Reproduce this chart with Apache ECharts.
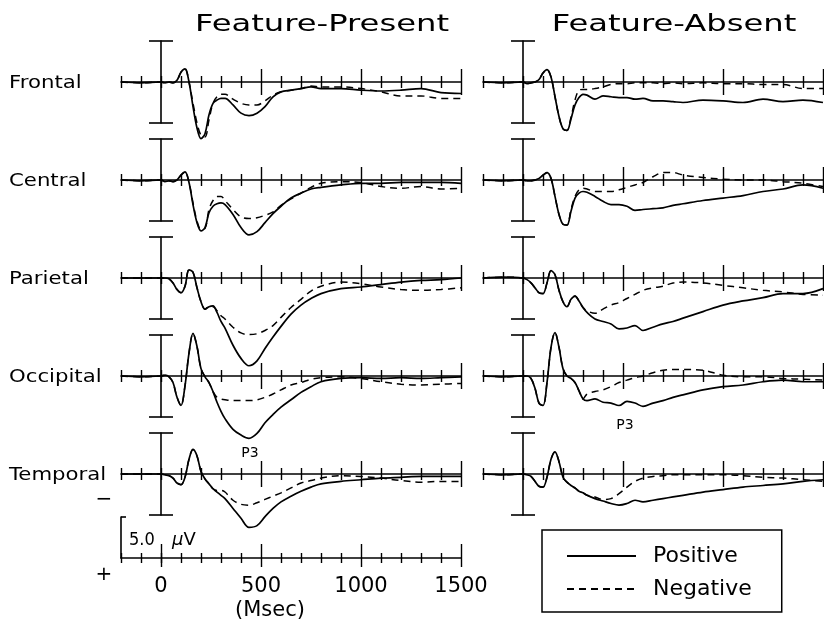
<!DOCTYPE html>
<html>
<head>
<meta charset="utf-8">
<title>ERP waveforms</title>
<script src="https://cdn.jsdelivr.net/npm/echarts@6/dist/echarts.min.js"></script>
<style>
  html, body { margin: 0; padding: 0; background: #fff; }
  #chart { width: 824px; height: 622px; }
</style>
</head>
<body>
<div id="chart"></div>
<script>
// sample times (ms) shared by every trace
var times = [-200, -100, 0, 20, 40, 60, 80, 100, 120, 140, 160, 180, 200, 220, 240, 260, 280, 300, 320,
             360, 400, 440, 480, 520, 560, 600, 650, 700, 750, 800, 900, 1000, 1100, 1200, 1300, 1400, 1500];

var sites = ['Frontal', 'Central', 'Parietal', 'Occipital', 'Temporal'];
var conditions = ['Feature-Present', 'Feature-Absent'];
var minorTicks = [-200, -100, 0, 100, 200, 300, 400, 600, 700, 800, 900, 1100, 1200, 1300, 1400];
var majorTicks = [500, 1000, 1500];
var timeLabels = [0, 500, 1000, 1500];

// amplitudes in microvolts, positive drawn downward
var presentFrontalPos = [0, 0.1, 0, 0.1, 0, 0.1, -0.2, -1.2, -1.6, 0, 3.0, 5.6, 6.9, 6.3, 4.0, 2.6, 2.2, 2.0, 2.0,
  2.8, 3.8, 4.1, 3.8, 3.0, 1.8, 1.2, 1.0, 0.8, 0.6, 0.8, 0.8, 1.0, 1.1, 1.0, 0.8, 1.3, 1.4];
var presentFrontalNeg = [0, 0.1, 0, 0.1, 0, 0.1, -0.2, -1.2, -1.6, 0, 2.6, 5.0, 6.5, 6.7, 4.6, 2.6, 1.8, 1.5, 1.5,
  2.1, 2.6, 2.8, 2.8, 2.3, 1.6, 1.2, 1.0, 0.8, 0.5, 0.6, 0.6, 0.8, 1.2, 1.7, 1.7, 2.0, 2.0];
var presentCentralPos = [0, 0.1, 0, 0.2, 0.1, 0.2, 0, -0.6, -1.0, 0.3, 3.0, 5.2, 6.2, 5.8, 4.0, 3.2, 2.9, 2.8, 3.0,
  4.2, 5.8, 6.7, 6.3, 5.2, 4.1, 3.2, 2.2, 1.6, 1.1, 0.9, 0.6, 0.4, 0.4, 0.3, 0.3, 0.3, 0.4];
var presentCentralNeg = [0, 0.1, 0, 0.2, 0.1, 0.2, 0, -0.6, -1.0, 0.3, 2.8, 5.0, 6.0, 5.9, 3.6, 2.5, 2.0, 2.0, 2.5,
  3.6, 4.5, 4.7, 4.6, 4.3, 3.9, 3.1, 2.3, 1.6, 0.9, 0.4, 0.2, 0.3, 0.8, 1.0, 0.8, 1.1, 1.0];
var presentParietalPos = [0, 0, 0, 0, 0.1, 0.6, 1.4, 1.8, 1.0, -1.0, -0.7, 1.2, 2.9, 3.8, 3.5, 3.4, 4.2, 5.3, 6.1,
  8.2, 9.8, 10.7, 10.1, 8.6, 7.2, 5.9, 4.4, 3.3, 2.5, 1.9, 1.3, 1.1, 0.8, 0.5, 0.3, 0.2, 0.0];
var presentParietalNeg = [0, 0, 0, 0, 0.1, 0.6, 1.4, 1.8, 1.0, -1.0, -0.7, 1.2, 2.9, 3.8, 3.5, 3.5, 4.0, 4.6, 5.0,
  6.0, 6.7, 6.9, 6.8, 6.4, 5.8, 4.8, 3.6, 2.6, 1.6, 1.0, 0.5, 0.7, 1.1, 1.4, 1.5, 1.4, 1.2];
var presentOccipitalPos = [0, 0.1, 0, -0.1, 0.1, 0.8, 2.6, 3.6, 1.2, -2.8, -5.2, -3.6, -0.9, 0.1, 0.8, 1.9, 3.2, 4.3, 5.2,
  6.5, 7.2, 7.6, 7.0, 5.7, 4.7, 3.8, 2.9, 2.0, 1.3, 0.7, 0.3, 0.2, 0.3, 0.2, 0.3, 0.2, 0.1];
var presentOccipitalNeg = [0, 0.1, 0, -0.1, 0.1, 0.8, 2.6, 3.6, 1.2, -2.8, -5.2, -3.6, -0.9, 0.1, 0.8, 1.9, 2.6, 2.8, 2.9,
  3.0, 3.0, 3.0, 2.9, 2.6, 2.2, 1.7, 1.1, 0.8, 0.4, 0.2, 0.1, 0.3, 0.7, 1.0, 1.1, 1.0, 0.9];
var presentTemporalPos = [0, 0, 0, 0.1, 0.2, 0.5, 1.1, 1.3, 0.4, -1.8, -3.0, -2.2, -0.3, 0.6, 1.2, 1.8, 2.2, 2.6, 3.0,
  4.2, 5.4, 6.5, 6.3, 5.2, 4.2, 3.4, 2.7, 2.1, 1.6, 1.2, 0.9, 0.7, 0.5, 0.4, 0.3, 0.3, 0.3];
var presentTemporalNeg = [0, 0, 0, 0.1, 0.2, 0.5, 1.1, 1.3, 0.4, -1.8, -3.0, -2.2, -0.3, 0.6, 1.2, 1.8, 2.0, 2.0, 2.2,
  3.2, 3.7, 3.8, 3.5, 3.1, 2.7, 2.3, 1.7, 1.1, 0.8, 0.5, 0.2, 0.3, 0.5, 0.8, 1.0, 0.9, 0.9];

var absentFrontalPos = [0, 0.1, 0, 0.2, 0.1, 0, -0.3, -1.1, -1.5, -0.6, 1.8, 4.2, 5.7, 5.9, 4.5, 2.8, 1.9, 1.5, 1.6,
  2.1, 1.7, 1.8, 1.9, 1.9, 2.1, 2.0, 2.3, 2.3, 2.4, 2.5, 2.2, 2.3, 2.5, 2.1, 2.4, 2.2, 2.5];
var absentFrontalNeg = [0, 0.1, 0, 0.2, 0.1, 0, -0.3, -1.1, -1.5, -0.6, 1.8, 4.2, 5.7, 5.9, 4.3, 2.2, 1.0, 0.9, 0.9,
  0.8, 0.6, 0.3, 0.2, 0.2, 0.1, 0.1, 0.1, 0.2, 0.1, 0.2, 0.1, 0.2, 0.2, 0.3, 0.3, 0.8, 0.8];
var absentCentralPos = [0, 0.1, 0, 0.1, 0.1, 0, -0.2, -0.6, -0.9, -0.2, 2.0, 4.2, 5.4, 5.5, 3.8, 2.2, 1.6, 1.4, 1.5,
  2.0, 2.6, 3.0, 3.0, 3.2, 3.7, 3.6, 3.5, 3.4, 3.1, 2.9, 2.5, 2.2, 1.9, 1.4, 1.1, 0.6, 1.0];
var absentCentralNeg = [0, 0.1, 0, 0.1, 0.1, 0, -0.2, -0.6, -0.9, -0.2, 2.0, 4.2, 5.4, 5.5, 3.6, 2.0, 1.2, 1.0, 1.1,
  1.4, 1.4, 1.4, 1.2, 0.9, 0.6, 0.3, -0.4, -0.9, -0.9, -0.6, -0.3, -0.1, 0, 0, 0.2, 0.4, 0.8];
var absentParietalPos = [0, -0.1, 0, 0.2, 0.6, 1.2, 1.8, 1.9, 0.6, -0.9, -0.4, 1.5, 2.9, 3.5, 2.6, 2.2, 2.8, 3.6, 4.2,
  5.0, 5.3, 5.6, 6.2, 6.1, 5.8, 6.4, 6.0, 5.6, 5.3, 4.9, 4.1, 3.3, 2.8, 2.4, 1.9, 1.9, 1.3];
var absentParietalNeg = [0, -0.1, 0, 0.2, 0.6, 1.2, 1.8, 1.9, 0.6, -0.9, -0.4, 1.5, 2.9, 3.5, 2.6, 2.2, 2.8, 3.6, 4.0,
  4.3, 3.8, 3.3, 3.0, 2.5, 2.0, 1.5, 1.2, 1.0, 0.6, 0.5, 0.6, 0.9, 1.2, 1.5, 1.7, 2.0, 2.1];
var absentOccipitalPos = [0, 0.1, 0, 0, 0.3, 1.5, 3.3, 3.6, 0.8, -3.5, -5.3, -3.5, -0.9, 0, 0.3, 0.8, 1.8, 2.8, 3.0,
  2.8, 3.2, 3.3, 3.6, 3.1, 3.3, 3.7, 3.3, 3.0, 2.6, 2.3, 1.7, 1.3, 1.1, 0.7, 0.5, 0.7, 0.7];
var absentOccipitalNeg = [0, 0.1, 0, 0, 0.3, 1.5, 3.3, 3.6, 0.8, -3.5, -5.3, -3.5, -0.9, 0, 0.3, 0.8, 1.8, 2.8, 2.2,
  1.9, 1.7, 1.3, 0.8, 0.5, 0.2, 0, -0.4, -0.7, -0.8, -0.8, -0.7, -0.1, 0.1, 0.1, 0.3, 0.4, 0.5];
var absentTemporalPos = [0, 0.1, 0, 0.1, 0.3, 0.9, 1.5, 1.6, 0.4, -1.8, -2.7, -1.5, 0.4, 1.0, 1.4, 1.7, 2.1, 2.3, 2.6,
  3.0, 3.3, 3.6, 3.8, 3.6, 3.2, 3.4, 3.2, 3.0, 2.8, 2.6, 2.2, 1.9, 1.6, 1.4, 1.2, 0.9, 0.7];
var absentTemporalNeg = [0, 0.1, 0, 0.1, 0.3, 0.9, 1.5, 1.6, 0.4, -1.8, -2.7, -1.5, 0.4, 1.0, 1.4, 1.7, 2.1, 2.3, 2.6,
  2.8, 3.1, 3.0, 2.4, 1.6, 0.9, 0.5, 0.3, 0.2, 0.1, 0.1, 0.1, 0.1, 0.2, 0.4, 0.5, 0.7, 0.9];

var traces = [
  [presentFrontalPos, presentFrontalNeg, absentFrontalPos, absentFrontalNeg],
  [presentCentralPos, presentCentralNeg, absentCentralPos, absentCentralNeg],
  [presentParietalPos, presentParietalNeg, absentParietalPos, absentParietalNeg],
  [presentOccipitalPos, presentOccipitalNeg, absentOccipitalPos, absentOccipitalNeg],
  [presentTemporalPos, presentTemporalNeg, absentTemporalPos, absentTemporalNeg]
];

var FONT = '"DejaVu Sans", sans-serif';
var black = '#000';
var colLeft = [121, 483];
var plotW = 340, halfH = 41, rowStep = 98, firstBase = 82;

var grids = [], xAxes = [], yAxes = [], series = [];

function tickAxis(gi, ticks, len, inside, showLine, offset) {
  xAxes.push({
    type: 'value', gridIndex: gi, min: -200, max: 1500, position: 'bottom', offset: offset,
    axisLine: { show: showLine, onZero: false, lineStyle: { color: black, width: 1.6 } },
    axisTick: { show: true, inside: inside, length: len, customValues: ticks, lineStyle: { color: black, width: 1.4 } },
    axisLabel: { show: false }, splitLine: { show: false }
  });
}

function toPoints(vals) {
  return times.map(function (t, i) { return [t, vals[i]]; });
}

for (var r = 0; r < sites.length; r++) {
  for (var c = 0; c < 2; c++) {
    var gi = grids.length;
    grids.push({ left: colLeft[c], top: firstBase - halfH + r * rowStep, width: plotW, height: halfH * 2, outerBoundsMode: 'none' });
    var xi = xAxes.length;
    tickAxis(gi, minorTicks, 6, true, true, -halfH);
    tickAxis(gi, minorTicks, 6, false, false, -halfH);
    tickAxis(gi, majorTicks, 13, true, false, -halfH);
    tickAxis(gi, majorTicks, 13, false, false, -halfH);
    var yi = yAxes.length;
    [true, false].forEach(function (inside, k) {
      yAxes.push({
        type: 'value', gridIndex: gi, min: -5, max: 5, inverse: true, position: 'left', offset: -40,
        axisLine: { show: k === 0, onZero: false, lineStyle: { color: black, width: 1.6 } },
        axisTick: { show: true, inside: inside, length: 12, customValues: [-5, 5], lineStyle: { color: black, width: 1.6 } },
        axisLabel: { show: false }, splitLine: { show: false }
      });
    });
    series.push({
      name: 'Negative', type: 'line', xAxisIndex: xi, yAxisIndex: yi,
      data: toPoints(traces[r][c * 2 + 1]), symbol: 'none', smooth: 0.35, clip: false, silent: true,
      lineStyle: { color: black, width: 1.5, type: [7, 5] }, itemStyle: { color: black }
    });
    series.push({
      name: 'Positive', type: 'line', xAxisIndex: xi, yAxisIndex: yi,
      data: toPoints(traces[r][c * 2]), symbol: 'none', smooth: 0.35, clip: false, silent: true,
      lineStyle: { color: black, width: 1.7 }, itemStyle: { color: black }
    });
  }
}

// calibration axis: time scale and 5 uV bar
var cg = grids.length;
grids.push({ left: colLeft[0], top: 517, width: plotW, height: 41, outerBoundsMode: 'none' });
tickAxis(cg, minorTicks, 5, true, true, 0);
tickAxis(cg, timeLabels, 14, true, false, 0);
tickAxis(cg, timeLabels, 9, false, false, 0);
xAxes.push({
  type: 'value', gridIndex: cg, min: -200, max: 1500, position: 'bottom', offset: 0,
  axisLine: { show: false, onZero: false },
  axisTick: { show: true, inside: false, length: 5, customValues: minorTicks, lineStyle: { color: black, width: 1.4 } },
  axisLabel: {
    show: true, customValues: timeLabels, margin: 18, color: black, fontSize: 21, fontFamily: FONT,
    formatter: function (v) { return String(v); }
  },
  splitLine: { show: false }
});
yAxes.push({
  type: 'value', gridIndex: cg, min: 0, max: 5, position: 'left', offset: 0,
  axisLine: { show: true, onZero: false, lineStyle: { color: black, width: 1.6 } },
  axisTick: { show: true, inside: true, length: 5, customValues: [5], lineStyle: { color: black, width: 1.6 } },
  axisLabel: { show: false }, splitLine: { show: false }
});

function label(text, x, y, size, align, sx) {
  return {
    type: 'text', x: x, y: y, scaleX: sx || 1, silent: true,
    style: {
      text: text, font: size + 'px ' + FONT, fill: black,
      align: align, textAlign: align, verticalAlign: 'middle', textVerticalAlign: 'middle'
    }
  };
}

var texts = [
  label(conditions[0], 322, 25, 23, 'center', 1.4),
  label(conditions[1], 674, 25, 23, 'center', 1.4),
  label('P3', 250, 453, 14, 'center'),
  label('P3', 625, 425, 14, 'center'),
  label('5.0', 129, 540, 18, 'left', 0.9),
  label('\u2212', 104, 500, 20, 'center'),
  label('+', 104, 575, 20, 'center'),
  label('(Msec)', 270, 611, 21, 'center'),
  {
    type: 'text', x: 172, y: 540, silent: true,
    style: {
      text: '{i|\u03bc}V', font: '18px ' + FONT, fill: black,
      align: 'left', textAlign: 'left', verticalAlign: 'middle', textVerticalAlign: 'middle',
      rich: { i: { fontStyle: 'italic', fontSize: 18, fontFamily: FONT, fill: black, color: black } }
    }
  }
];
sites.forEach(function (s, i) {
  texts.push(label(s, 9, firstBase + 1 + i * rowStep, 18, 'left', 1.18));
});

var chart = echarts.init(document.getElementById('chart'), null, { renderer: 'canvas' });
chart.setOption({
  backgroundColor: '#fff',
  animation: false,
  textStyle: { fontFamily: FONT, color: black },
  grid: grids,
  xAxis: xAxes,
  yAxis: yAxes,
  series: series,
  legend: {
    data: ['Positive', 'Negative'],
    orient: 'vertical', left: 542, top: 530,
    padding: [15, 30, 12, 24], itemGap: 11,
    itemWidth: 69, itemHeight: 14,
    borderColor: black, borderWidth: 1.5, borderRadius: 0,
    selectedMode: false,
    itemStyle: { color: 'rgba(0,0,0,0)', borderWidth: 0, opacity: 0 },
    textStyle: { fontSize: 22, fontFamily: FONT, color: black, padding: [0, 0, 0, 12] }
  },
  graphic: { elements: texts }
});
</script>
</body>
</html>
